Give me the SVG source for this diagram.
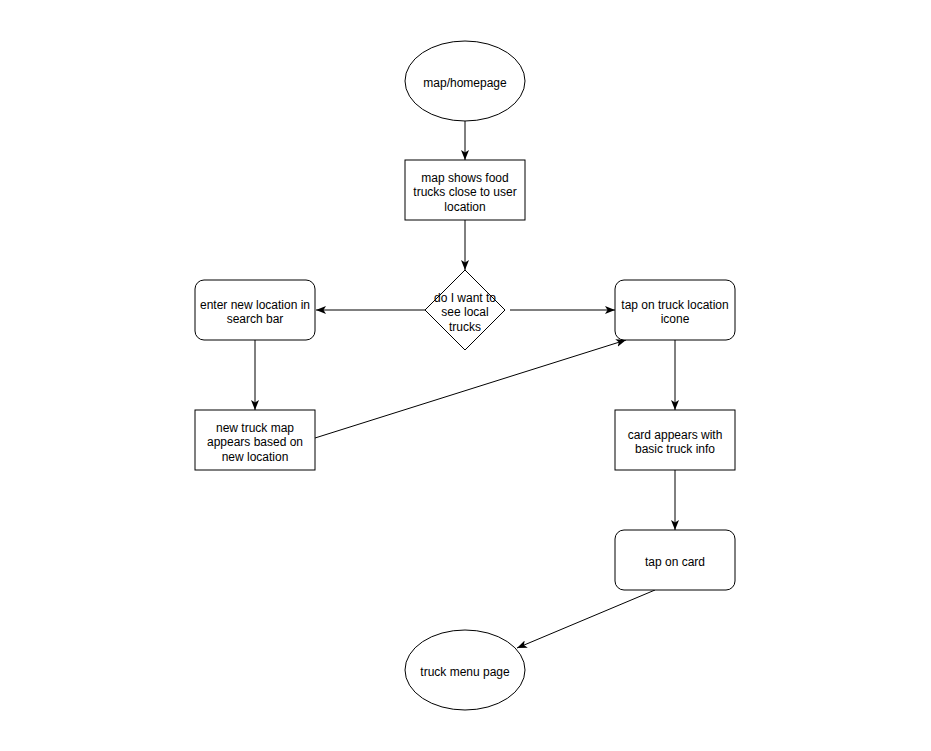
<svg xmlns="http://www.w3.org/2000/svg" width="931" height="751" viewBox="0 0 931 751">
<style>
.n{fill:#fff;stroke:#000;stroke-width:1}
.t{font-family:"Liberation Sans",Arial,Helvetica,sans-serif;font-size:12px;fill:#000;text-anchor:middle}
.e{fill:none;stroke:#000;stroke-width:1}
</style>
<defs>
<marker id="a" viewBox="0 0 10 8" refX="10" refY="4" markerWidth="10" markerHeight="8" markerUnits="userSpaceOnUse" orient="auto">
<path d="M0,0 L10,4 L0,8 L2.5,4 z" fill="#000"/>
</marker>
</defs>
<rect width="931" height="751" fill="#fff"/>
<g id="connectors">
<line class="e" x1="465" y1="121" x2="465" y2="160" marker-end="url(#a)"/>
<line class="e" x1="465" y1="220" x2="465" y2="270" marker-end="url(#a)"/>
<line class="e" x1="425" y1="310" x2="316" y2="310" marker-end="url(#a)"/>
<line class="e" x1="510" y1="310" x2="615" y2="310" marker-end="url(#a)"/>
<line class="e" x1="255" y1="340" x2="255" y2="410" marker-end="url(#a)"/>
<line class="e" x1="315" y1="438" x2="626" y2="340" marker-end="url(#a)"/>
<line class="e" x1="675" y1="340" x2="675" y2="410" marker-end="url(#a)"/>
<line class="e" x1="675" y1="470" x2="675" y2="530" marker-end="url(#a)"/>
<line class="e" x1="655" y1="590" x2="517" y2="648" marker-end="url(#a)"/>
</g>
<g id="n1">
<ellipse class="n" cx="465" cy="81" rx="60" ry="40"/>
<text class="t" x="465" y="87">map/homepage</text>
</g>
<g id="n2">
<rect class="n" x="405" y="160" width="120" height="60"/>
<text class="t" x="465" y="182">map shows food</text>
<text class="t" x="465" y="196.4">trucks close to user</text>
<text class="t" x="465" y="210.8">location</text>
</g>
<g id="n3">
<polygon class="n" points="465,270 505,310 465,350 425,310"/>
<text class="t" x="465" y="302">do I want to</text>
<text class="t" x="465" y="316.4">see local</text>
<text class="t" x="465" y="330.8">trucks</text>
</g>
<g id="n4">
<rect class="n" x="195" y="280" width="120" height="60" rx="9" ry="9"/>
<text class="t" x="255" y="309">enter new location in</text>
<text class="t" x="255" y="323.4">search bar</text>
</g>
<g id="n5">
<rect class="n" x="615" y="280" width="120" height="60" rx="9" ry="9"/>
<text class="t" x="675" y="309">tap on truck location</text>
<text class="t" x="675" y="323.4">icone</text>
</g>
<g id="n6">
<rect class="n" x="195" y="410" width="120" height="60"/>
<text class="t" x="255" y="432">new truck map</text>
<text class="t" x="255" y="446.4">appears based on</text>
<text class="t" x="255" y="460.8">new location</text>
</g>
<g id="n7">
<rect class="n" x="615" y="410" width="120" height="60"/>
<text class="t" x="675" y="439">card appears with</text>
<text class="t" x="675" y="453.4">basic truck info</text>
</g>
<g id="n8">
<rect class="n" x="615" y="530" width="120" height="60" rx="9" ry="9"/>
<text class="t" x="675" y="566">tap on card</text>
</g>
<g id="n9">
<ellipse class="n" cx="465" cy="670" rx="60" ry="40"/>
<text class="t" x="465" y="676">truck menu page</text>
</g>
</svg>
